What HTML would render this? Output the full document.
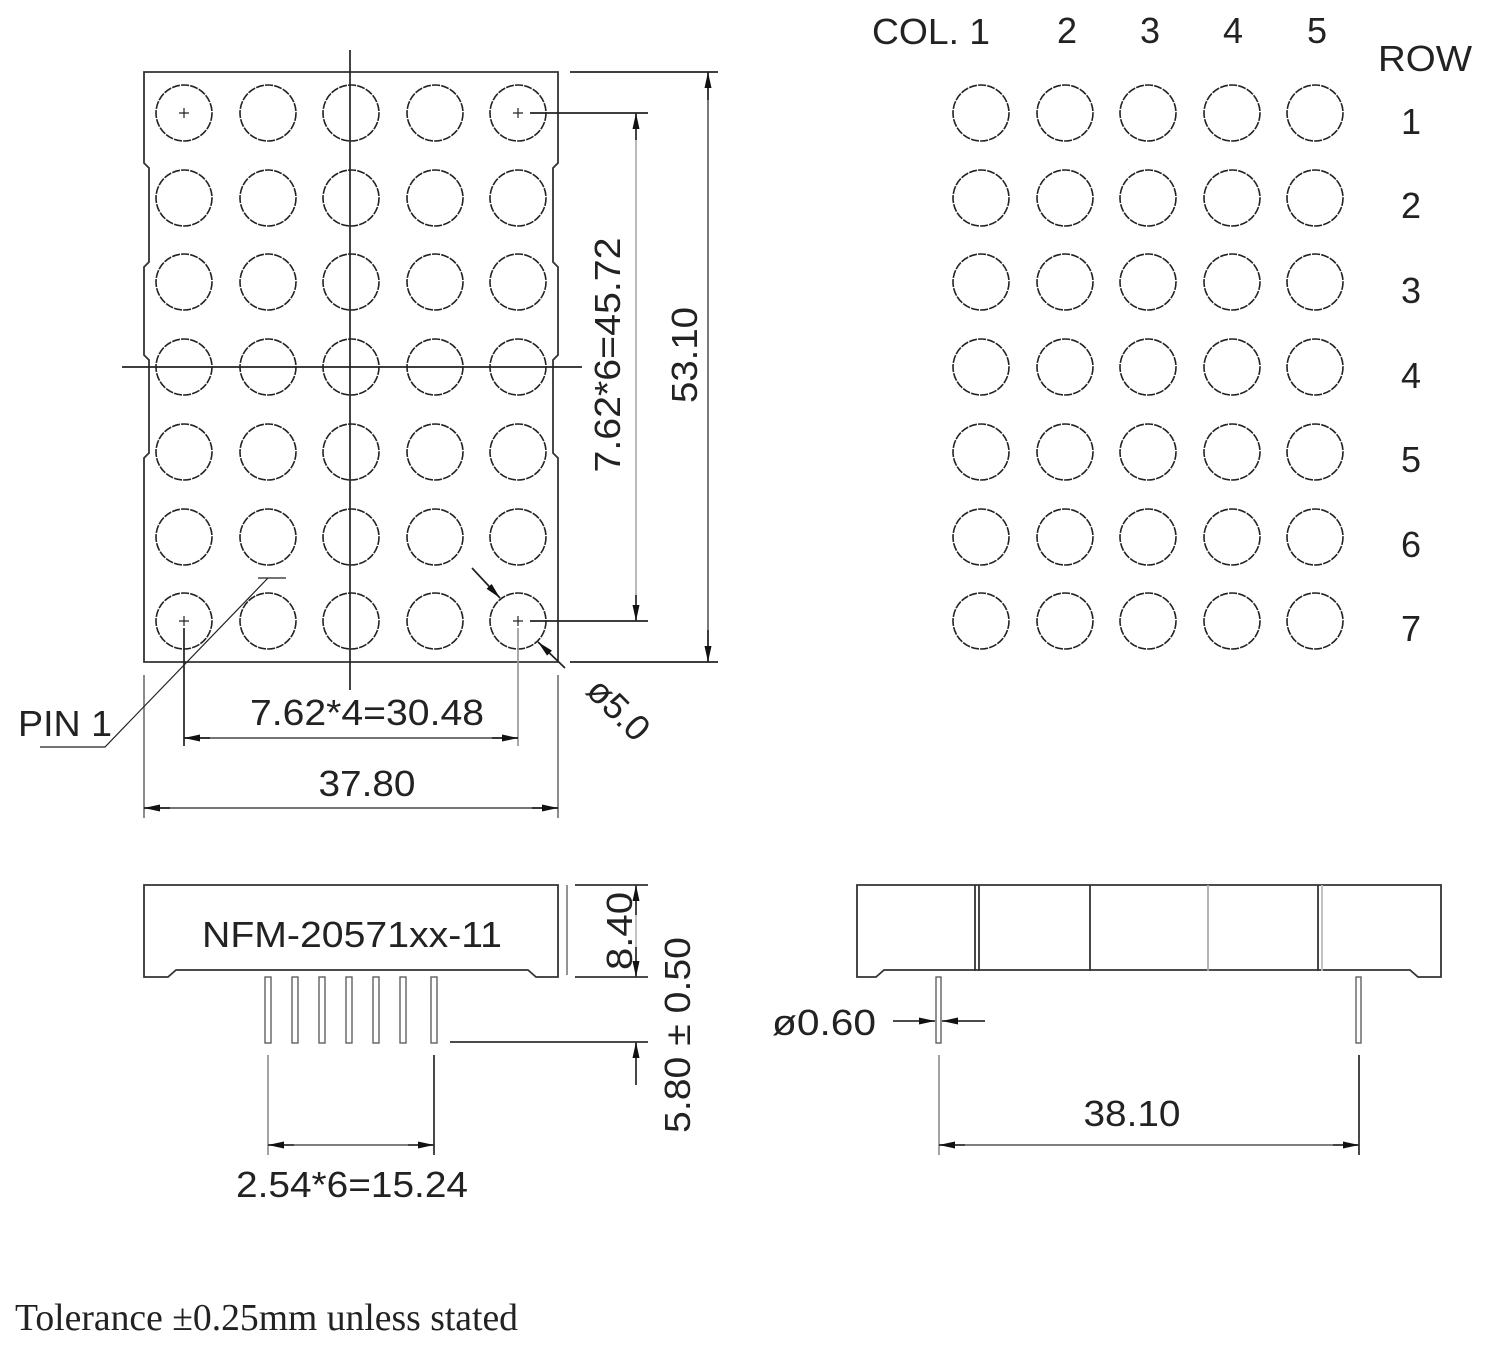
<!DOCTYPE html>
<html><head><meta charset="utf-8"><style>
html,body{margin:0;padding:0;background:#fff}
svg{display:block}
text{font-family:"Liberation Sans",sans-serif;fill:#222}
</style></head><body>
<svg width="1490" height="1352" viewBox="0 0 1490 1352" xmlns="http://www.w3.org/2000/svg">
<defs>
<marker id="a" viewBox="0 0 16 7" refX="16" refY="3.5" markerWidth="16" markerHeight="7" orient="auto" markerUnits="userSpaceOnUse"><path d="M0,0L16,3.5L0,7z" fill="#111"/></marker>
</defs>
<g fill="none" stroke="#333" stroke-width="1.8">
<path d="M144,72H558V163L553,168V262L558,267V355L553,360V453L558,458V662H144V458L149,453V360L144,355V267L149,262V168L144,163Z"/>
</g>
<g fill="none" stroke="#222" stroke-width="1.6" stroke-dasharray="8 1.2">
<g id="grid">
<circle cx="184" cy="113" r="28"/><circle cx="268" cy="113" r="28"/><circle cx="351" cy="113" r="28"/><circle cx="435" cy="113" r="28"/><circle cx="518" cy="113" r="28"/>
<circle cx="184" cy="198" r="28"/><circle cx="268" cy="198" r="28"/><circle cx="351" cy="198" r="28"/><circle cx="435" cy="198" r="28"/><circle cx="518" cy="198" r="28"/>
<circle cx="184" cy="282" r="28"/><circle cx="268" cy="282" r="28"/><circle cx="351" cy="282" r="28"/><circle cx="435" cy="282" r="28"/><circle cx="518" cy="282" r="28"/>
<circle cx="184" cy="367" r="28"/><circle cx="268" cy="367" r="28"/><circle cx="351" cy="367" r="28"/><circle cx="435" cy="367" r="28"/><circle cx="518" cy="367" r="28"/>
<circle cx="184" cy="452" r="28"/><circle cx="268" cy="452" r="28"/><circle cx="351" cy="452" r="28"/><circle cx="435" cy="452" r="28"/><circle cx="518" cy="452" r="28"/>
<circle cx="184" cy="537" r="28"/><circle cx="268" cy="537" r="28"/><circle cx="351" cy="537" r="28"/><circle cx="435" cy="537" r="28"/><circle cx="518" cy="537" r="28"/>
<circle cx="184" cy="621" r="28"/><circle cx="268" cy="621" r="28"/><circle cx="351" cy="621" r="28"/><circle cx="435" cy="621" r="28"/><circle cx="518" cy="621" r="28"/>
</g>
<use href="#grid" transform="translate(797,0)"/>
</g>
<g fill="none" stroke="#222" stroke-width="1.7">
<line x1="350" y1="50" x2="350" y2="690"/>
<line x1="122" y1="367" x2="582" y2="367"/>
<path d="M179,113h10M184,108v10M179,621h10M184,616v10M513,113h10M518,108v10M513,621h10M518,616v10" stroke-width="1.2"/>
<line x1="530" y1="113" x2="648" y2="113"/>
<line x1="530" y1="621" x2="648" y2="621"/>
<line x1="636" y1="140" x2="636" y2="113" marker-end="url(#a)"/>
<line x1="636" y1="595" x2="636" y2="621" marker-end="url(#a)"/>
<line x1="636" y1="140" x2="636" y2="595" stroke="#777" stroke-width="1"/>
<line x1="570" y1="72" x2="718" y2="72"/>
<line x1="570" y1="662" x2="718" y2="662"/>
<line x1="708" y1="72" x2="708" y2="662" stroke-width="1.2"/>
<line x1="708" y1="100" x2="708" y2="72" marker-end="url(#a)"/>
<line x1="708" y1="630" x2="708" y2="662" marker-end="url(#a)"/>
<line x1="184" y1="628" x2="184" y2="746"/>
<line x1="518" y1="628" x2="518" y2="746" stroke="#999"/>
<line x1="184" y1="738" x2="518" y2="738" stroke-width="1.2"/>
<line x1="210" y1="738" x2="184" y2="738" marker-end="url(#a)"/>
<line x1="492" y1="738" x2="518" y2="738" marker-end="url(#a)"/>
<line x1="144" y1="675" x2="144" y2="818" stroke="#777"/>
<line x1="558" y1="675" x2="558" y2="818" stroke="#777"/>
<line x1="144" y1="808" x2="558" y2="808" stroke-width="1.2"/>
<line x1="170" y1="808" x2="144" y2="808" marker-end="url(#a)"/>
<line x1="532" y1="808" x2="558" y2="808" marker-end="url(#a)"/>
<polyline points="40,747 105,747 268,578" stroke-width="1.2"/>
<line x1="258" y1="578" x2="286" y2="578" stroke-width="1.2"/>
<line x1="472" y1="568" x2="500" y2="598" marker-end="url(#a)"/>
<line x1="565" y1="668" x2="538" y2="642" marker-end="url(#a)"/>
</g>
<text x="18" y="736" font-size="36" textLength="94" lengthAdjust="spacingAndGlyphs">PIN 1</text>
<text x="367" y="725" font-size="36" text-anchor="middle" textLength="234" lengthAdjust="spacingAndGlyphs">7.62*4=30.48</text>
<text x="367" y="796" font-size="36" text-anchor="middle" textLength="97" lengthAdjust="spacingAndGlyphs">37.80</text>
<text transform="translate(620,355) rotate(-90)" font-size="36" text-anchor="middle" textLength="235" lengthAdjust="spacingAndGlyphs">7.62*6=45.72</text>
<text transform="translate(697,355) rotate(-90)" font-size="36" text-anchor="middle" textLength="96" lengthAdjust="spacingAndGlyphs">53.10</text>
<text transform="translate(610,718) rotate(45)" font-size="36" text-anchor="middle">ø5.0</text>

<text x="872" y="44" font-size="36" textLength="118" lengthAdjust="spacingAndGlyphs">COL. 1</text>
<text x="1067" y="43" font-size="36" text-anchor="middle">2</text>
<text x="1150" y="43" font-size="36" text-anchor="middle">3</text>
<text x="1233" y="43" font-size="36" text-anchor="middle">4</text>
<text x="1317" y="43" font-size="36" text-anchor="middle">5</text>
<text x="1378" y="71" font-size="36" textLength="94" lengthAdjust="spacingAndGlyphs">ROW</text>
<g font-size="36" text-anchor="middle">
<text x="1411" y="134">1</text><text x="1411" y="218">2</text><text x="1411" y="303">3</text><text x="1411" y="388">4</text><text x="1411" y="472">5</text><text x="1411" y="557">6</text><text x="1411" y="641">7</text>
</g>

<g fill="none" stroke="#333" stroke-width="1.8">
<path d="M144,885H558V977H536L528,970H176L168,977H144Z"/>
<line x1="567" y1="885" x2="567" y2="975" stroke="#888"/>
<g stroke-width="1.3" stroke="#555">
<rect x="265" y="977" width="6" height="66"/>
<rect x="292" y="977" width="6" height="66"/>
<rect x="319" y="977" width="6" height="66"/>
<rect x="346" y="977" width="6" height="66"/>
<rect x="373" y="977" width="6" height="66"/>
<rect x="400" y="977" width="6" height="66"/>
<rect x="431" y="977" width="6" height="66"/>
</g>
<line x1="575" y1="885" x2="648" y2="885"/>
<line x1="575" y1="977" x2="648" y2="977"/>
<line x1="636" y1="915" x2="636" y2="885" marker-end="url(#a)"/>
<line x1="636" y1="947" x2="636" y2="977" marker-end="url(#a)"/>
<line x1="636" y1="915" x2="636" y2="947" stroke="#888" stroke-width="1"/>
<line x1="450" y1="1042" x2="648" y2="1042"/>
<line x1="636" y1="1085" x2="636" y2="1042" marker-end="url(#a)"/>
<line x1="268" y1="1055" x2="268" y2="1155" stroke="#999"/>
<line x1="434" y1="1055" x2="434" y2="1155"/>
<line x1="268" y1="1145" x2="434" y2="1145" stroke-width="1.2"/>
<line x1="294" y1="1145" x2="268" y2="1145" marker-end="url(#a)"/>
<line x1="408" y1="1145" x2="434" y2="1145" marker-end="url(#a)"/>
</g>
<text x="352" y="947" font-size="36" text-anchor="middle" textLength="300" lengthAdjust="spacingAndGlyphs">NFM-20571xx-11</text>
<text transform="translate(632,931) rotate(-90)" font-size="36" text-anchor="middle" textLength="78" lengthAdjust="spacingAndGlyphs">8.40</text>
<text transform="translate(690,1035) rotate(-90)" font-size="36" text-anchor="middle" textLength="196" lengthAdjust="spacingAndGlyphs">5.80 ± 0.50</text>
<text x="352" y="1197" font-size="36" text-anchor="middle" textLength="232" lengthAdjust="spacingAndGlyphs">2.54*6=15.24</text>

<g fill="none" stroke="#333" stroke-width="1.8">
<path d="M857,885H1441V977H1418L1410,970H884L876,977H857Z"/>
<line x1="975" y1="885" x2="975" y2="971"/>
<line x1="979" y1="885" x2="979" y2="971"/>
<line x1="1090" y1="885" x2="1090" y2="971"/>
<line x1="1208" y1="885" x2="1208" y2="971" stroke="#aaa"/>
<line x1="1318" y1="885" x2="1318" y2="971"/>
<line x1="1322" y1="885" x2="1322" y2="971" stroke="#bbb"/>
<rect x="936" y="977" width="5" height="66" stroke-width="1.3" stroke="#555"/>
<rect x="1356" y="977" width="5" height="66" stroke-width="1.3" stroke="#555"/>
<line x1="893" y1="1021" x2="935" y2="1021" marker-end="url(#a)"/>
<line x1="985" y1="1021" x2="942" y2="1021" marker-end="url(#a)"/>
<line x1="939" y1="1055" x2="939" y2="1155" stroke="#999"/>
<line x1="1359" y1="1055" x2="1359" y2="1155"/>
<line x1="939" y1="1145" x2="1359" y2="1145" stroke-width="1.2"/>
<line x1="965" y1="1145" x2="939" y2="1145" marker-end="url(#a)"/>
<line x1="1333" y1="1145" x2="1359" y2="1145" marker-end="url(#a)"/>
</g>
<text x="772" y="1035" font-size="36" textLength="104" lengthAdjust="spacingAndGlyphs">ø0.60</text>
<text x="1132" y="1126" font-size="36" text-anchor="middle" textLength="97" lengthAdjust="spacingAndGlyphs">38.10</text>

<text x="15" y="1330" font-size="38" style="font-family:'Liberation Serif',serif" textLength="503" lengthAdjust="spacingAndGlyphs">Tolerance ±0.25mm unless stated</text>
</svg>
</body></html>
